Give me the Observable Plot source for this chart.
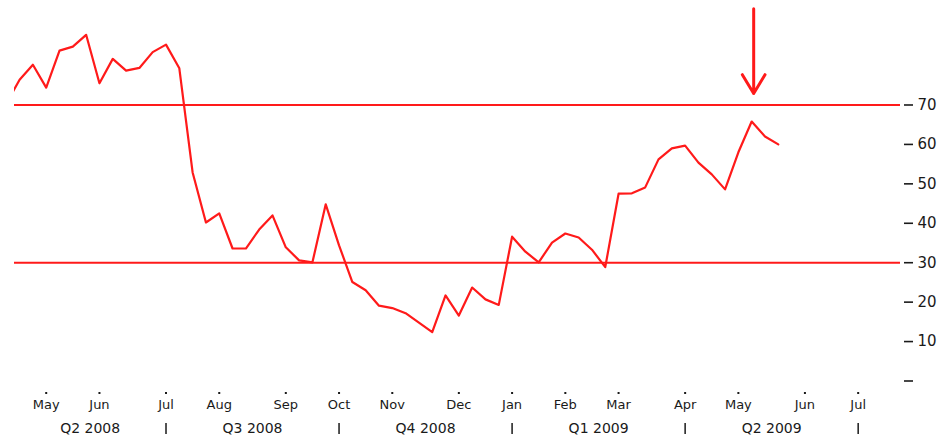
<!DOCTYPE html>
<html>
<head>
<meta charset="utf-8">
<script src="https://cdn.jsdelivr.net/npm/d3@7"></script>
<script src="https://cdn.jsdelivr.net/npm/@observablehq/plot@0.6"></script>
<style>
  html, body { margin: 0; padding: 0; background: #fff; }
</style>
</head>
<body>
<div id="chart"></div>
<script>
// Weekly index (0 = first week of May 2008) and indicator values
const weeks = [-3,-2,-1,0,1,2,3,4,5,6,7,8,9,10,11,12,13,14,15,16,17,18,19,20,21,22,23,24,25,26,27,28,29,30,31,32,33,34,35,36,37,38,39,40,41,42,43,44,45,46,47,48,49,50,51,52,53,54,55];
const values = [70.3,76.4,80.2,74.4,83.8,84.8,87.8,75.5,81.7,78.7,79.4,83.4,85.3,79.3,52.9,40.2,42.5,33.6,33.6,38.4,42.0,33.9,30.6,30.1,44.8,34.4,25.1,23.0,19.1,18.5,17.2,14.8,12.4,21.7,16.6,23.7,20.7,19.3,36.6,32.8,30.1,35.1,37.4,36.4,33.3,28.9,47.5,47.6,49.1,56.2,59.0,59.7,55.4,52.4,48.6,58.0,65.8,62.0,60.0];

// Axis ticks
const monthTicks = [0,4,9,13,18,22,26,31,35,39,43,48,52,57,61];
const monthLabels = ["May","Jun","Jul","Aug","Sep","Oct","Nov","Dec","Jan","Feb","Mar","Apr","May","Jun","Jul"];
const quarterCenters = [3.3,15.5,28.5,41.5,54.5];
const quarterLabels = ["Q2 2008","Q3 2008","Q4 2008","Q1 2009","Q2 2009"];
const quarterBreaks = [9,22,35,48,61];
const yTicks = [0,10,20,30,40,50,60,70];

// Reference levels and annotation arrow
const levels = [30,70];
const arrowWeek = [53.15];
const arrowFrom = [94.4];
const arrowTo = [72.9];

const data = weeks.map((w, i) => ({w, v: values[i]}));
const arrows = arrowWeek.map((w, i) => ({w, from: arrowFrom[i], to: arrowTo[i]}));

const red = "#ff1a1a";

const chart = Plot.plot({
  width: 951,
  height: 441,
  marginLeft: 14,
  marginRight: 51,
  marginTop: 0,
  marginBottom: 51,
  style: {fontFamily: "'DejaVu Sans', Verdana, sans-serif", color: "#1a1a1a", background: "#fff"},
  x: {domain: [-2.382, 64.18], axis: null},
  y: {domain: [-2.41, 96.5], axis: null},
  marks: [
    Plot.ruleY(levels, {stroke: red, strokeWidth: 2}),
    Plot.line(data, {x: "w", y: "v", stroke: red, strokeWidth: 2.2, clip: true}),
    Plot.arrow(arrows, {x1: "w", x2: "w", y1: "from", y2: "to", stroke: red, strokeWidth: 3, headLength: 11, headAngle: 62}),
    Plot.axisY({anchor: "right", ticks: yTicks, tickFormat: d => d === 0 ? "" : String(d), tickSize: 9, tickPadding: 5, dx: 3, fontSize: 15, strokeWidth: 1.6, label: null}),
    Plot.axisX({ticks: monthTicks, tickFormat: () => "", tickSize: 2, dy: 2, strokeWidth: 2, label: null}),
    Plot.axisX({ticks: monthTicks, tickFormat: d => monthLabels[monthTicks.indexOf(d)], tickSize: 0, tickPadding: 9, fontSize: 13, label: null}),
    Plot.axisX({ticks: quarterCenters, tickFormat: d => quarterLabels[quarterCenters.indexOf(d)], tickSize: 0, tickPadding: 33, fontSize: 14, label: null}),
    Plot.axisX({ticks: quarterBreaks, tickFormat: () => "", tickSize: 11, dy: 33, strokeWidth: 1.5, label: null})
  ]
});
document.getElementById("chart").appendChild(chart);
</script>
</body>
</html>
